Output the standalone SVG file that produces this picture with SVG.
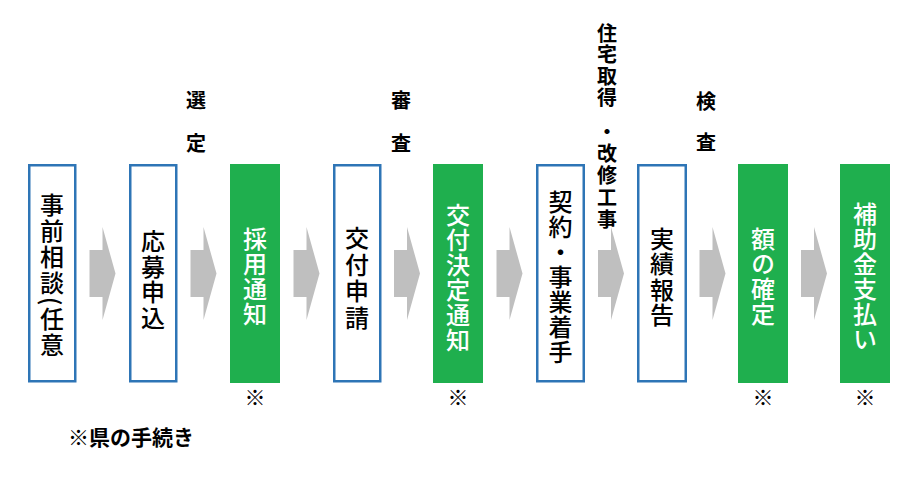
<svg xmlns="http://www.w3.org/2000/svg" width="912" height="480" viewBox="0 0 912 480">
<style>
.bx{fill:#fff;stroke:#2E75B6;stroke-width:2.5}
.gb{fill:#1FAF4E}
.ar{fill:#BFBFBF}
text{font-family:"Noto Sans CJK JP","Noto Sans CJK SC",sans-serif;text-anchor:middle}
.v{writing-mode:vertical-rl;font-size:24px;font-weight:500;letter-spacing:1px}
.t{fill:#000}
.w{fill:#fff}
.lb{writing-mode:vertical-rl;font-size:20px;font-weight:bold;fill:#000}
.mk{font-size:21px;font-weight:bold;fill:#000}
.ft{font-size:21px;font-weight:bold;fill:#000;text-anchor:start}
</style>
<rect width="912" height="480" fill="#fff"/>
<g id="connectors">
<path class="ar" d="M89.5,250H102.5V227L115.5,273.5L102.5,320V297H89.5Z"/>
<path class="ar" d="M190.5,250H203.5V227L216.5,273.5L203.5,320V297H190.5Z"/>
<path class="ar" d="M293.5,250H306.5V227L319.5,273.5L306.5,320V297H293.5Z"/>
<path class="ar" d="M394,250H407V227L420,273.5L407,320V297H394Z"/>
<path class="ar" d="M496.5,250H509.5V227L522.5,273.5L509.5,320V297H496.5Z"/>
<path class="ar" d="M598,250H611V227L624,273.5L611,320V297H598Z"/>
<path class="ar" d="M699.5,250H712.5V227L725.5,273.5L712.5,320V297H699.5Z"/>
<path class="ar" d="M801,250H814V227L827,273.5L814,320V297H801Z"/>
</g>
<g id="n1">
<rect class="bx" x="29.25" y="165.25" width="46" height="216"/>
<text class="v t" x="52" y="276" style="letter-spacing:2px">事前相談(任意</text>
</g>
<g id="n2">
<rect class="bx" x="130.25" y="165.25" width="46" height="216"/>
<text class="v t" x="153" y="280" style="letter-spacing:1.5px">応募申込</text>
</g>
<g id="n3">
<rect class="gb" x="230" y="164" width="50" height="219"/>
<text class="v w" x="255" y="277">採用通知</text>
<text class="mk" x="255" y="405">※</text>
</g>
<g id="n4">
<rect class="bx" x="334.25" y="165.25" width="46" height="216"/>
<text class="v t" x="357" y="279" style="letter-spacing:2.5px">交付申請</text>
</g>
<g id="n5">
<rect class="gb" x="433" y="164" width="50" height="219"/>
<text class="v w" x="458" y="277.5">交付決定通知</text>
<text class="mk" x="458" y="405">※</text>
</g>
<g id="n6">
<rect class="bx" x="537.25" y="165.25" width="46.5" height="216"/>
<text class="v t" x="560.5" y="277.5">契約・事業着手</text>
</g>
<g id="n7">
<rect class="bx" x="638.25" y="165.25" width="47.5" height="216"/>
<text class="v t" x="662" y="277.5" style="letter-spacing:1.5px">実績報告</text>
</g>
<g id="n8">
<rect class="gb" x="738" y="164" width="50" height="219"/>
<text class="v w" x="763" y="276.5">額の確定</text>
<text class="mk" x="763" y="405">※</text>
</g>
<g id="n9">
<rect class="gb" x="840" y="164" width="50" height="219"/>
<text class="v w" x="865" y="276.5">補助金支払い</text>
<text class="mk" x="865" y="405">※</text>
</g>
<g id="labels">
<text class="lb" x="196" y="133" style="letter-spacing:23px">選定</text>
<text class="lb" x="401" y="133" style="letter-spacing:23px">審査</text>
<text class="lb" x="706" y="132" style="letter-spacing:21px">検査</text>
<text class="lb" x="607" y="66" style="letter-spacing:1.5px">住宅取得</text>
<text class="lb" x="607" y="176" style="letter-spacing:2px">・改修工事</text>
</g>
<g id="note">
<text class="ft" x="68" y="445">※県の手続き</text>
</g>
</svg>
